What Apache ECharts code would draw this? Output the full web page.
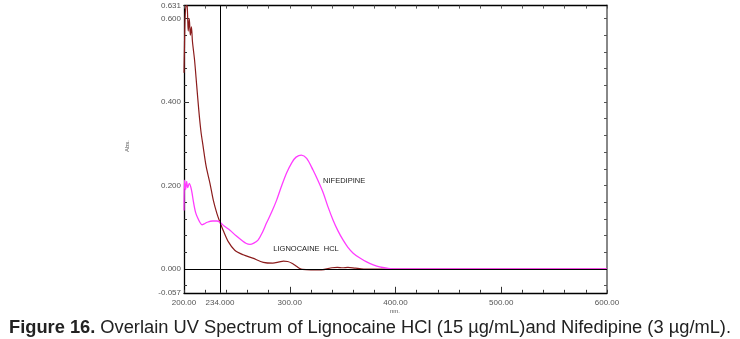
<!DOCTYPE html>
<html>
<head>
<meta charset="utf-8">
<script src="https://cdn.jsdelivr.net/npm/echarts@6/dist/echarts.min.js"></script>
<style>
  html, body { margin: 0; padding: 0; background: #fff; }
  #chart { width: 740px; height: 339px; }
</style>
</head>
<body>
<div id="chart"></div>
<script>
// Wavelength scan limits (nm) and absorbance limits
const xMin = 200, xMax = 600;
const yMin = -0.057, yMax = 0.631;

// Axis labels
const xLabelValues = [200, 234, 300, 400, 500, 600];
const xLabelText = { 200: '200.00', 234: '234.000', 300: '300.00', 400: '400.00', 500: '500.00', 600: '600.00' };
const yLabelValues = [-0.057, 0, 0.2, 0.4, 0.6, 0.631];
const yLabelText = { '-0.057': '-0.057', '0': '0.000', '0.2': '0.200', '0.4': '0.400', '0.6': '0.600', '0.631': '0.631' };

// Tick positions
const xMinorTicks = [200, 220, 240, 260, 280, 300, 320, 340, 360, 380, 400, 420, 440, 460, 480, 500, 520, 540, 560, 580, 600];
const xMajorTicks = [300, 400, 500];
const yTicks = [-0.04, 0, 0.04, 0.08, 0.12, 0.16, 0.2, 0.24, 0.28, 0.32, 0.36, 0.4, 0.44, 0.48, 0.52, 0.56, 0.6];
const yMajorTicks = [0, 0.2, 0.4, 0.6];

// Cursor position (isosbestic point)
const cursorNm = 234;

// Lignocaine HCl (15 µg/mL)
const lignoNm = [200, 200.5, 201, 202, 203, 204, 205, 206, 207, 208, 210, 212, 214, 216, 218, 221, 224.5, 227.7, 231, 234, 237, 242, 248, 256, 265, 275, 284, 290, 294, 298, 302, 305, 309, 312, 320, 330, 340, 345, 350, 355, 362, 370, 400, 500, 600];
const lignoAbs = [0.47, 0.54, 0.60, 0.631, 0.63, 0.57, 0.60, 0.56, 0.58, 0.545, 0.50, 0.44, 0.38, 0.33, 0.295, 0.245, 0.206, 0.165, 0.134, 0.112, 0.093, 0.065, 0.045, 0.034, 0.026, 0.016, 0.014, 0.017, 0.019, 0.018, 0.014, 0.009, 0.002, -0.001, -0.002, -0.002, 0.003, 0.004, 0.003, 0.004, 0.002, 0, 0, 0, 0];

// Nifedipine (3 µg/mL)
const nifeNm = [200, 200.5, 201.5, 202.5, 203.5, 205, 207, 209, 211, 213, 215, 217, 219, 222, 227, 231, 234, 238, 243.5, 249, 254.5, 259, 262.4, 266, 270, 274, 278, 283, 287.6, 292, 297, 302, 306, 311, 316, 322, 327, 331.7, 336, 341, 345.5, 350.5, 355, 360, 366, 372.7, 379, 385, 392, 400, 500, 600];
const nifeAbs = [0.14, 0.213, 0.19, 0.21, 0.195, 0.205, 0.19, 0.16, 0.135, 0.122, 0.112, 0.106, 0.108, 0.112, 0.115, 0.115, 0.112, 0.103, 0.093, 0.08, 0.069, 0.061, 0.059, 0.062, 0.069, 0.087, 0.110, 0.137, 0.165, 0.197, 0.23, 0.255, 0.268, 0.273, 0.265, 0.237, 0.21, 0.182, 0.15, 0.117, 0.092, 0.069, 0.052, 0.038, 0.027, 0.017, 0.01, 0.005, 0.002, 0, 0, 0];

// Curve annotations
const nifeLabel = { text: 'NIFEDIPINE', nm: 331.5, abs: 0.212 };
const lignoLabel = { text: 'LIGNOCAINE  HCL', nm: 284.5, abs: 0.047 };

const zip = (xs, ys) => xs.map((x, i) => [x, ys[i]]);

const tickLabelStyle = { color: '#555', fontSize: 8, fontFamily: 'Liberation Sans, Arial, sans-serif' };
const captionFont = 'Liberation Sans, Arial, sans-serif';

const chart = echarts.init(document.getElementById('chart'), null, { renderer: 'canvas' });

chart.setOption({
  animation: false,
  backgroundColor: '#fff',
  title: {
    left: 'center',
    top: 319,
    padding: 0,
    text: '{b|Figure 16.} {n|Overlain UV Spectrum of Lignocaine HCl (15 µg/mL)and Nifedipine (3 µg/mL).}',
    textStyle: {
      fontWeight: 'normal',
      rich: {
        b: { fontFamily: captionFont, fontWeight: 'bold', fontSize: 18.3, color: '#222' },
        n: { fontFamily: captionFont, fontWeight: 'normal', fontSize: 18.3, color: '#222' }
      }
    }
  },
  graphic: [
    { type: 'text', left: 390, top: 308, style: { text: 'nm.', fontSize: 6, fill: '#555', fontFamily: 'Liberation Sans, Arial' } },
    { type: 'text', x: 124, y: 152, rotation: Math.PI / 2, style: { text: 'Abs.', fontSize: 6, fill: '#555', fontFamily: 'Liberation Sans, Arial' } }
  ],
  grid: { left: 184, right: 133, top: 5.6, bottom: 46.2, containLabel: false },
  xAxis: [
    {
      type: 'value', min: xMin, max: xMax, position: 'bottom',
      axisLine: { onZero: false, lineStyle: { color: '#000', width: 1.3 } },
      axisTick: { inside: true, length: 3, customValues: xMinorTicks, lineStyle: { color: '#333' } },
      axisLabel: { customValues: xLabelValues, formatter: v => xLabelText[v], margin: 6, ...tickLabelStyle },
      splitLine: { show: false }
    },
    {
      type: 'value', min: xMin, max: xMax, position: 'bottom',
      axisLine: { show: false, onZero: false },
      axisTick: { inside: true, length: 6, customValues: xMajorTicks, lineStyle: { color: '#333' } },
      axisLabel: { show: false },
      splitLine: { show: false }
    },
    {
      type: 'value', min: xMin, max: xMax, position: 'top',
      axisLine: { onZero: false, lineStyle: { color: '#000', width: 1.3 } },
      axisTick: { inside: true, length: 3, customValues: xMinorTicks, lineStyle: { color: '#555' } },
      axisLabel: { show: false },
      splitLine: { show: false }
    }
  ],
  yAxis: [
    {
      type: 'value', min: yMin, max: yMax, position: 'left',
      axisLine: { onZero: false, lineStyle: { color: '#000', width: 1.3 } },
      axisTick: { inside: true, length: 3, customValues: yTicks, lineStyle: { color: '#333' } },
      axisLabel: { customValues: yLabelValues, formatter: v => yLabelText[String(+v.toFixed(3))], margin: 3, ...tickLabelStyle },
      splitLine: { show: false }
    },
    {
      type: 'value', min: yMin, max: yMax, position: 'left',
      axisLine: { show: false, onZero: false },
      axisTick: { inside: true, length: 5, customValues: yMajorTicks, lineStyle: { color: '#333' } },
      axisLabel: { show: false },
      splitLine: { show: false }
    },
    {
      type: 'value', min: yMin, max: yMax, position: 'right',
      axisLine: { onZero: false, lineStyle: { color: '#888', width: 2 } },
      axisTick: { inside: true, length: 3, customValues: yTicks, lineStyle: { color: '#555' } },
      axisLabel: { show: false },
      splitLine: { show: false }
    }
  ],
  series: [
    {
      name: 'Lignocaine HCl',
      type: 'line',
      data: zip(lignoNm, lignoAbs),
      showSymbol: false,
      smooth: 0.3,
      clip: true,
      lineStyle: { color: '#8b1c1c', width: 1.2 },
      z: 3,
      markLine: {
        silent: true,
        symbol: 'none',
        label: { show: false },
        lineStyle: { color: '#000', width: 1, type: 'solid' },
        data: [{ xAxis: cursorNm }, { yAxis: 0 }]
      },
      markPoint: {
        silent: true,
        symbol: 'circle',
        symbolSize: 0,
        label: {
          show: true, position: 'inside', align: 'left', verticalAlign: 'middle',
          color: '#222', fontSize: 7.5, fontFamily: 'Liberation Sans, Arial, sans-serif',
          formatter: p => p.name
        },
        data: [
          { name: lignoLabel.text, coord: [lignoLabel.nm, lignoLabel.abs] },
          { name: nifeLabel.text, coord: [nifeLabel.nm, nifeLabel.abs] }
        ]
      }
    },
    {
      name: 'Nifedipine',
      type: 'line',
      data: zip(nifeNm, nifeAbs),
      showSymbol: false,
      smooth: 0.3,
      clip: true,
      lineStyle: { color: '#ff3cff', width: 1.3 },
      z: 4
    }
  ]
});
</script>
</body>
</html>
